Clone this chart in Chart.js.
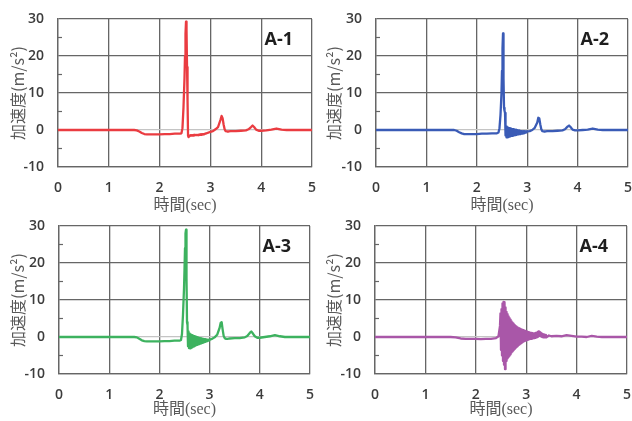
<!DOCTYPE html>
<html lang="ja">
<head>
<meta charset="utf-8">
<title>加速度波形 A-1〜A-4</title>
<script src="https://cdn.jsdelivr.net/npm/chart.js@4.4.1/dist/chart.umd.min.js"></script>
<style>
  html, body { margin: 0; padding: 0; background: #fff; }
  #wrap { position: relative; width: 632px; height: 421px; overflow: hidden; }
  #wrap canvas { position: absolute; }
  #c1 { left: 0; top: 0; }
  #c2 { left: 316px; top: 0; }
  #c3 { left: 0; top: 214px; }
  #c4 { left: 316px; top: 214px; }
</style>
</head>
<body>
<div id="wrap">
  <canvas id="c1" width="316" height="214"></canvas>
  <canvas id="c2" width="316" height="214"></canvas>
  <canvas id="c3" width="316" height="207"></canvas>
  <canvas id="c4" width="316" height="207"></canvas>
</div>
<script>
// time axis shared by A-1..A-3 (sec), dense around the impact
const timeMain = [
  0, 0.5, 1.0, 1.5, 1.55, 1.6, 1.65, 1.7, 1.75, 1.8, 1.9, 2.0, 2.1, 2.2, 2.3, 2.4,
  2.43, 2.45, 2.47, 2.49,
  2.50, 2.51, 2.52, 2.53, 2.54, 2.55, 2.56, 2.57, 2.58, 2.59,
  2.60, 2.61, 2.62, 2.63, 2.64, 2.65, 2.66, 2.67, 2.68, 2.69,
  2.70, 2.71, 2.72, 2.73, 2.74, 2.75, 2.76, 2.77, 2.78, 2.79,
  2.80, 2.81, 2.82, 2.83, 2.84, 2.85, 2.86, 2.87, 2.88, 2.89,
  2.90, 2.91, 2.92, 2.93, 2.94, 2.95, 2.96, 2.97, 2.98, 2.99,
  3.00, 3.05, 3.1, 3.15, 3.2, 3.22, 3.24, 3.26, 3.28, 3.3,
  3.33, 3.36, 3.4, 3.5, 3.6, 3.7, 3.75, 3.8, 3.83, 3.86,
  3.9, 3.95, 4.0, 4.1, 4.2, 4.3, 4.4, 4.5, 4.75, 5.0
];

// acceleration (m/s2)
const accelA1 = [
  0, 0, 0, 0, -0.1, -0.4, -0.8, -1.1, -1.2, -1.2, -1.2, -1.2, -1.1, -1.1, -1.0, -1.0,
  -0.9, 0.5, 6, 14,
  20, 26, 29.3, 27, 17, 8, -1.5, -1.9, -1.7, -1.5,
  -1.5, -1.4, -1.5, -1.4, -1.5, -1.4, -1.4, -1.5, -1.3, -1.4,
  -1.4, -1.3, -1.4, -1.3, -1.4, -1.3, -1.3, -1.4, -1.3, -1.3,
  -1.2, -1.3, -1.2, -1.3, -1.2, -1.2, -1.1, -1.2, -1.1, -1.1,
  -1.0, -1.0, -0.9, -0.9, -0.8, -0.8, -0.7, -0.7, -0.6, -0.6,
  -0.5, -0.3, 0.2, 0.8, 2.8, 3.8, 3.2, 1.5, 0.2, -0.3,
  -0.4, -0.4, -0.3, -0.3, -0.2, -0.1, 0.2, 0.8, 1.2, 0.8,
  0.1, -0.2, -0.2, -0.1, 0.1, 0.4, 0.1, 0, 0, 0
];

const accelA2 = [
  0, 0, 0, 0, 0, -0.2, -0.6, -0.9, -1.1, -1.1, -1.1, -1.1, -1.0, -1.0, -0.9, -0.9,
  -0.7, 0.5, 4, 10,
  16, 22, 26.1, 14, 6, 5.2, 4.6, -1.5, 1.0, -2.0,
  0.8, -2.0, 0.6, -1.9, 0.5, -1.8, 0.4, -1.7, 0.3, -1.6,
  0.2, -1.6, 0.2, -1.5, 0.1, -1.4, 0.0, -1.4, 0.0, -1.3,
  -0.1, -1.2, -0.2, -1.2, -0.2, -1.1, -0.3, -1.1, -0.3, -1.0,
  -0.4, -1.0, -0.4, -0.9, -0.4, -0.8, -0.4, -0.7, -0.4, -0.6,
  -0.4, -0.3, 0.0, 0.6, 2.0, 3.3, 3.1, 1.5, 0.2, -0.3,
  -0.4, -0.4, -0.3, -0.3, -0.2, -0.1, 0.2, 0.9, 1.2, 0.8,
  0.1, -0.1, -0.1, 0.0, 0.1, 0.4, 0.1, 0, 0, 0
];

const accelA3 = [
  0, 0, 0, 0, -0.1, -0.5, -0.9, -1.1, -1.2, -1.2, -1.2, -1.2, -1.1, -1.1, -1.0, -1.0,
  -0.8, 0.8, 6, 13,
  18, 24, 28, 29.0, 16, 4, 3.2, -2.5, 1.5, -3.0,
  1.0, -3.1, 0.8, -2.9, 0.6, -2.8, 0.4, -2.6, 0.3, -2.5,
  0.2, -2.3, 0.1, -2.2, 0.0, -2.1, -0.1, -2.0, -0.2, -1.9,
  -0.3, -1.8, -0.3, -1.7, -0.4, -1.6, -0.5, -1.5, -0.5, -1.4,
  -0.6, -1.3, -0.6, -1.2, -0.7, -1.1, -0.7, -1.0, -0.7, -0.9,
  -0.7, -0.5, -0.1, 0.6, 2.5, 3.8, 4.0, 2.0, 0.3, -0.3,
  -0.5, -0.5, -0.4, -0.3, -0.3, -0.1, 0.3, 1.1, 1.5, 1.0,
  0.2, -0.2, -0.2, 0.0, 0.2, 0.5, 0.2, 0, 0, 0
];

// A-4 rings for a while after the hit, so it gets its own finer time base
const timeA4 = [
  0, 0.5, 1.0, 1.5, 1.6, 1.7, 1.8, 1.9, 2.0, 2.1, 2.2, 2.3, 2.4, 2.45, 2.48,
  2.49,
  2.50, 2.51, 2.52, 2.53, 2.54, 2.55, 2.56, 2.57, 2.58, 2.59,
  2.60, 2.61, 2.62, 2.63, 2.64, 2.65, 2.66, 2.67, 2.68, 2.69,
  2.70, 2.71, 2.72, 2.73, 2.74, 2.75, 2.76, 2.77, 2.78, 2.79,
  2.80, 2.81, 2.82, 2.83, 2.84, 2.85, 2.86, 2.87, 2.88, 2.89,
  2.90, 2.91, 2.92, 2.93, 2.94, 2.95, 2.96, 2.97, 2.98, 2.99,
  3.00, 3.01, 3.02, 3.03, 3.04, 3.05, 3.06, 3.07, 3.08, 3.09,
  3.10, 3.11, 3.12, 3.13, 3.14, 3.15, 3.16, 3.17, 3.18, 3.19,
  3.20, 3.21, 3.22, 3.23, 3.24, 3.25, 3.26, 3.27, 3.28, 3.29,
  3.30, 3.31, 3.32, 3.33, 3.34, 3.35, 3.36, 3.37, 3.38, 3.39,
  3.40,
  3.45, 3.5, 3.6, 3.7, 3.8, 3.9, 4.0, 4.1, 4.2, 4.3, 4.4, 4.5, 4.75, 5.0
];

const accelA4 = [
  0, 0, 0, 0, -0.1, -0.4, -0.5, -0.5, -0.5, -0.6, -0.5, -0.5, -0.3, 0.2, 3.0,
  6.4,
  -3.5, 7.5, -5.0, 9.1, -6.5, 9.5, -7.5, 9.4, -8.7, 8.0,
  -6.5, 6.8, -5.8, 6.2, -5.4, 5.6, -5.1, 5.1, -4.7, 4.7,
  -4.2, 4.2, -3.9, 3.9, -3.6, 3.6, -3.3, 3.3, -3.0, 3.0,
  -2.7, 2.8, -2.5, 2.6, -2.2, 2.4, -2.0, 2.3, -1.8, 2.1,
  -1.6, 2.0, -1.4, 1.9, -1.2, 1.8, -1.1, 1.7, -1.0, 1.6,
  -0.9, 1.5, -0.8, 1.4, -0.7, 1.3, -0.6, 1.2, -0.5, 1.1,
  -0.5, 1.1, -0.4, 1.0, -0.3, 1.0, -0.3, 1.0, -0.2, 1.1,
  -0.1, 1.2, 0.0, 1.4, 0.3, 1.5, 0.4, 1.4, 0.3, 1.2,
  0.1, 1.0, 0.0, 0.8, -0.1, 0.7, -0.1, 0.6, -0.1, 0.6,
  -0.1,
  0.4, 0.2, 0.3, 0.2, 0.5, 0.3, 0.1, 0.1, 0.0, 0.3, 0.1, 0.0, 0.0, 0.0
];

const panelNames = ['A-1', 'A-2', 'A-3', 'A-4'];
const lineColors = ['#ea3c41', '#3a5bb6', '#3db25f', '#a957a8'];
const yTicksMinor = [-5, 5, 15, 25];

const xTitle = '時間(sec)';
const yTitle = '加速度(m/s²)';

const gridColor = '#666666';
const zeroColor = '#c4c4c4';
const tickColor = '#3c3c3c';
const titleColor = '#595959';

// panel label in the upper right + short inward ticks on the left edge
const panelTag = {
  id: 'panelTag',
  afterDraw(chart, args, opts) {
    const { ctx, chartArea, scales } = chart;
    ctx.save();
    ctx.strokeStyle = gridColor;
    ctx.lineWidth = 1.2;
    yTicksMinor.forEach(v => {
      const y = scales.y.getPixelForValue(v);
      ctx.beginPath();
      ctx.moveTo(chartArea.left, y);
      ctx.lineTo(chartArea.left + 4, y);
      ctx.stroke();
    });
    ctx.font = 'bold 18px "Open Sans"';
    ctx.fillStyle = '#1e1e1e';
    ctx.textAlign = 'right';
    ctx.textBaseline = 'middle';
    ctx.fillText(opts.text, chartArea.right - 19, chartArea.top + 21);
    ctx.restore();
  }
};

const makeChart = (id, idx, time, values, box) => {
  new Chart(document.getElementById(id), {
    type: 'line',
    data: {
      datasets: [{
        label: panelNames[idx],
        data: time.map((t, i) => ({ x: t, y: values[i] })),
        borderColor: lineColors[idx],
        borderWidth: 2.3,
        borderJoinStyle: 'round',
        pointRadius: 0,
        tension: 0,
        fill: false
      }]
    },
    options: {
      responsive: false,
      animation: false,
      devicePixelRatio: 1,
      layout: { padding: { top: box.top, right: box.right, left: 0, bottom: 0 } },
      plugins: {
        legend: { display: false },
        tooltip: { enabled: false },
        panelTag: { text: panelNames[idx] }
      },
      scales: {
        x: {
          type: 'linear',
          min: 0,
          max: 5,
          afterFit: s => { s.height = box.xAxis; s.paddingLeft = 0; s.paddingRight = 0; },
          ticks: {
            stepSize: 1,
            padding: 12.5,
            color: tickColor,
            font: { family: '"Open Sans"', size: 14, weight: '600' }
          },
          grid: { color: gridColor, lineWidth: 1.3, drawTicks: false },
          border: { color: gridColor, width: 1.3 },
          title: {
            display: true,
            text: xTitle,
            color: titleColor,
            font: { family: '"Liberation Serif", "Noto Sans CJK JP"', size: 16, lineHeight: 1 },
            padding: { top: 0, bottom: box.xTitlePad }
          }
        },
        y: {
          min: -10,
          max: 30,
          afterFit: s => { s.width = box.yAxis; s.paddingTop = 0; s.paddingBottom = 0; },
          ticks: {
            stepSize: 10,
            padding: 14,
            color: tickColor,
            font: { family: '"Open Sans"', size: 14, weight: '600' }
          },
          grid: {
            color: c => (c.tick && c.tick.value === 0 ? zeroColor : gridColor),
            lineWidth: 1.3,
            drawTicks: false
          },
          border: { color: gridColor, width: 1.3 },
          title: {
            display: true,
            text: yTitle,
            color: titleColor,
            font: { family: '"Noto Sans CJK JP"', size: 16, lineHeight: 1 },
            padding: { top: 10, bottom: 0 }
          }
        }
      }
    },
    plugins: [panelTag]
  });
};

makeChart('c1', 0, timeMain, accelA1, { top: 19, right: 4, yAxis: 58, xAxis: 47, xTitlePad: 0 });
makeChart('c2', 1, timeMain, accelA2, { top: 19, right: 4, yAxis: 60, xAxis: 47, xTitlePad: 0 });
makeChart('c3', 2, timeMain, accelA3, { top: 12, right: 6, yAxis: 59, xAxis: 47, xTitlePad: 3.5 });
makeChart('c4', 3, timeA4, accelA4, { top: 12, right: 5, yAxis: 59, xAxis: 47, xTitlePad: 3.5 });
</script>
</body>
</html>
